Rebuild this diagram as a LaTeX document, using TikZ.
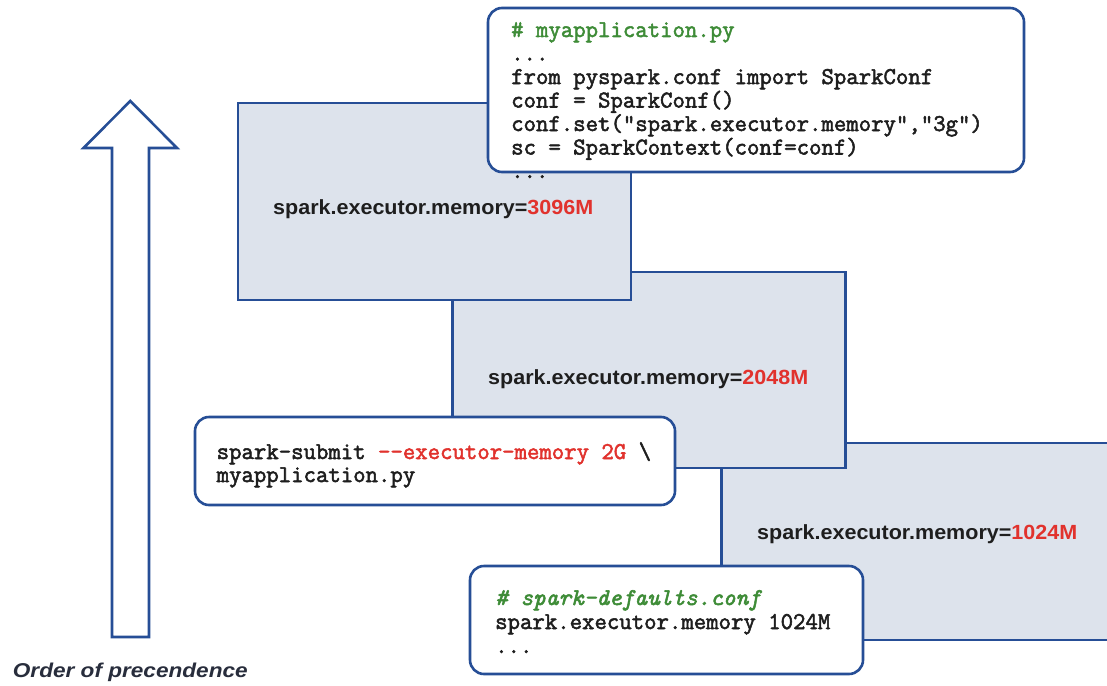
\documentclass[tikz,border=0pt]{standalone}
\usepackage{fontspec}
\newfontfamily\codefont{Latin Modern Mono}[FakeBold=2.2]
\newfontfamily\labfont[FakeStretch=1.05]{Liberation Sans}
\newfontfamily\ordfont[FakeStretch=1.13]{Liberation Sans}
\definecolor{bord}{RGB}{38,78,150}
\definecolor{boxfill}{RGB}{221,227,236}
\definecolor{txt}{RGB}{30,30,30}
\definecolor{redt}{RGB}{225,50,45}
\definecolor{greent}{RGB}{62,140,55}
\definecolor{ordc}{RGB}{40,45,60}
\tikzset{
  memrect/.style={draw=bord, fill=boxfill, line width=2.6pt, anchor=north west, inner sep=0pt, outer sep=0pt},
  codebox/.style={draw=bord, fill=white, line width=2.6pt, rounded corners=14pt, anchor=north west, inner sep=0pt, outer sep=0pt},
  codeline/.style={anchor=base west, inner sep=0pt, text=txt, font=\codefont\fontsize{24.1pt}{23pt}\selectfont},
  memlabel/.style={anchor=base west, inner sep=0pt, text=txt, font=\labfont\bfseries\fontsize{20.5pt}{22pt}\selectfont},
  bigarrow/.style={draw=bord, fill=white, line width=2.6pt, line join=miter},
}
\begin{document}
\begin{tikzpicture}[x=1pt,y=-1pt]
\useasboundingbox (0,0) rectangle (1107,685);
\clip (0,0) rectangle (1107,685);
\fill[white] (0,0) rectangle (1107,685);

% big arrow
\draw[bigarrow] (112,637) -- (112,148) -- (83.5,148) -- (130.3,101) -- (177,148) -- (149,148) -- (149,637) -- cycle;
\node[anchor=base west, inner sep=0pt, text=ordc, font=\ordfont\bfseries\itshape\fontsize{20pt}{22pt}\selectfont] (order) at (12.7,677) {Order of precendence};

% memory boxes (back to front)
\node[memrect, minimum width=400pt, minimum height=197pt] (b3) at (721.5,443) {};
\node[memrect, minimum width=393pt, minimum height=196pt] (b2) at (452.5,272) {};
\node[memrect, minimum width=393pt, minimum height=197pt] (b1) at (238,103) {};

\node[memlabel] (l1) at (273,214) {spark.executor.memory=\textcolor{redt}{3096M}};
\node[memlabel] (l2) at (488,384) {spark.executor.memory=\textcolor{redt}{2048M}};
\node[memlabel] (l3) at (757,539) {spark.executor.memory=\textcolor{redt}{1024M}};

% code box: myapplication.py
\node[codebox, minimum width=536pt, minimum height=164pt] (c1) at (488,8) {};
\node[codeline, text=greent] (c1a) at (511,37) {\# myapplication.py};
\node[codeline] (c1b) at (511,60.5) {...};
\node[codeline] (c1c) at (511,84) {from pyspark.conf import SparkConf};
\node[codeline] (c1d) at (511,107.5) {conf = SparkConf()};
\node[codeline] (c1e) at (511,131) {conf.set("spark.executor.memory","3g")};
\node[codeline] (c1f) at (511,154.5) {sc = SparkContext(conf=conf)};
\node[codeline] (c1g) at (511,178) {...};

% code box: spark-submit
\node[codebox, minimum width=480pt, minimum height=88pt] (c2) at (195,417) {};
\node[codeline] (c2a) at (216.5,459) {spark-submit \textcolor{redt}{-{}-executor-memory 2G} \textbackslash};
\node[codeline] (c2b) at (216.5,482) {myapplication.py};

% code box: spark-defaults.conf
\node[codebox, minimum width=393pt, minimum height=108pt] (c3) at (470,566) {};
\node[codeline, text=greent, font=\codefont\itshape\fontsize{24.1pt}{23pt}\selectfont] (c3a) at (495,605) {\# spark-defaults.conf};
\node[codeline] (c3b) at (495,629) {spark.executor.memory 1024M};
\node[codeline] (c3c) at (495,653) {...};
\end{tikzpicture}
\end{document}
